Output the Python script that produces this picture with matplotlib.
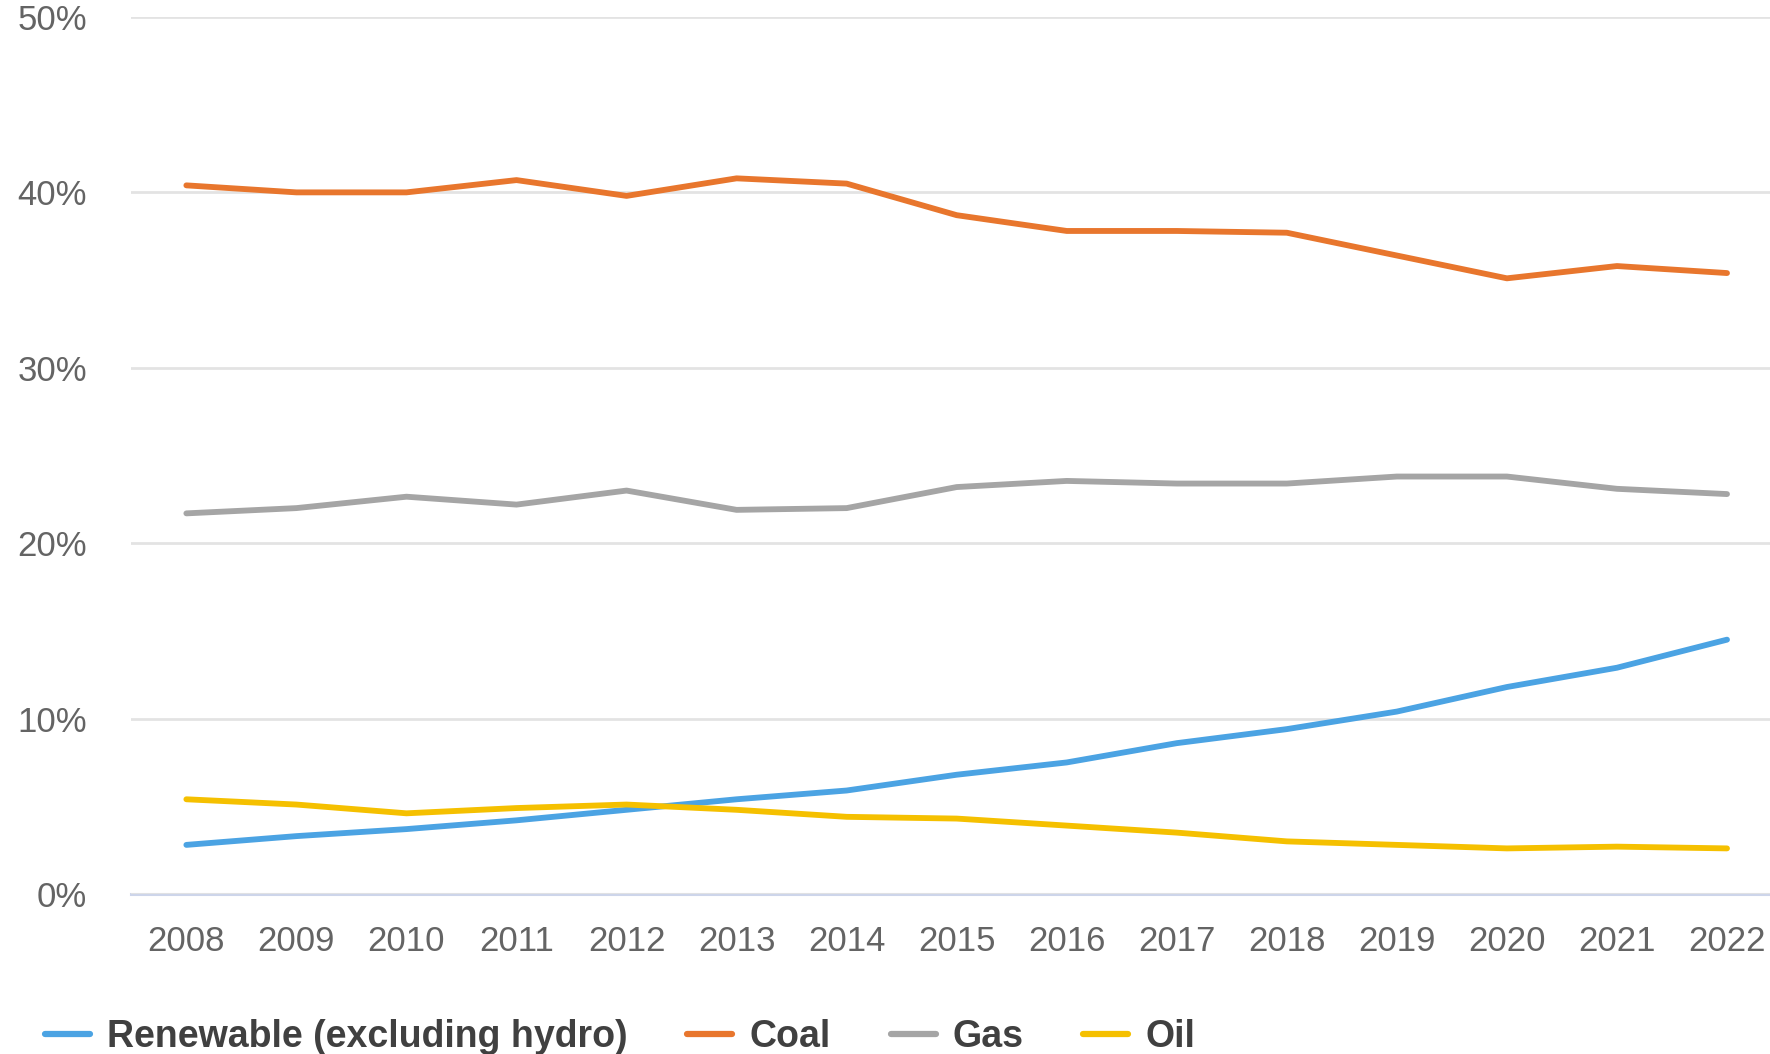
import matplotlib.pyplot as plt
from matplotlib.ticker import FuncFormatter

years = list(range(2008, 2023))

renewable = [2.8, 3.3, 3.7, 4.2, 4.8, 5.4, 5.9, 6.8, 7.5, 8.6, 9.4, 10.4, 11.8, 12.9, 14.5]
coal = [40.4, 40.0, 40.0, 40.7, 39.8, 40.8, 40.5, 38.7, 37.8, 37.8, 37.7, 36.4, 35.1, 35.8, 35.4]
gas = [21.7, 22.0, 22.65, 22.2, 23.0, 21.9, 22.0, 23.2, 23.55, 23.4, 23.4, 23.8, 23.8, 23.1, 22.8]
oil = [5.4, 5.1, 4.6, 4.9, 5.1, 4.8, 4.4, 4.3, 3.9, 3.5, 3.0, 2.8, 2.6, 2.7, 2.6]

series = [
    ("Renewable (excluding hydro)", renewable, "#4BA3E3"),
    ("Coal", coal, "#E8762D"),
    ("Gas", gas, "#A5A5A5"),
    ("Oil", oil, "#F5C000"),
]

plt.rcParams['font.family'] = ['Liberation Sans', 'DejaVu Sans']

fig = plt.figure(figsize=(17.7, 10.54), dpi=100)
ax = fig.add_axes([0.0742, 0.1518, 0.9326, 0.8321])

for name, vals, col in series:
    ax.plot(years, vals, color=col, lw=4.2, label=name, solid_capstyle='round', zorder=3)

ax.set_xlim(2007.5, 2022.5)
ax.set_ylim(0, 50)
ax.set_yticks(range(0, 51, 10))
ax.set_xticks(years)
ax.yaxis.set_major_formatter(FuncFormatter(lambda v, p: f"{v:.0f}%"))

ax.grid(axis='y', color='#E3E3E3', lw=2.0, zorder=0)
for s in ['top', 'right', 'left']:
    ax.spines[s].set_visible(False)
ax.spines['bottom'].set_color('#CDD5EA')
ax.spines['bottom'].set_linewidth(2.2)
ax.spines['bottom'].set_zorder(1)

ax.tick_params(axis='both', length=0, labelsize=25, labelcolor='#646464')
ax.tick_params(axis='y', pad=32)
ax.tick_params(axis='x', pad=22)

leg = fig.legend(loc='center left', bbox_to_anchor=(0.0254, 0.016), ncol=4, frameon=False,
                 borderpad=0, borderaxespad=0, handlelength=1.2, handletextpad=0.45,
                 columnspacing=1.6, prop={'size': 27, 'weight': 'bold'})
for t in leg.get_texts():
    t.set_color('#404040')
for h in leg.get_lines():
    h.set_linewidth(4.5)

fig.savefig('out.png', dpi=100)
